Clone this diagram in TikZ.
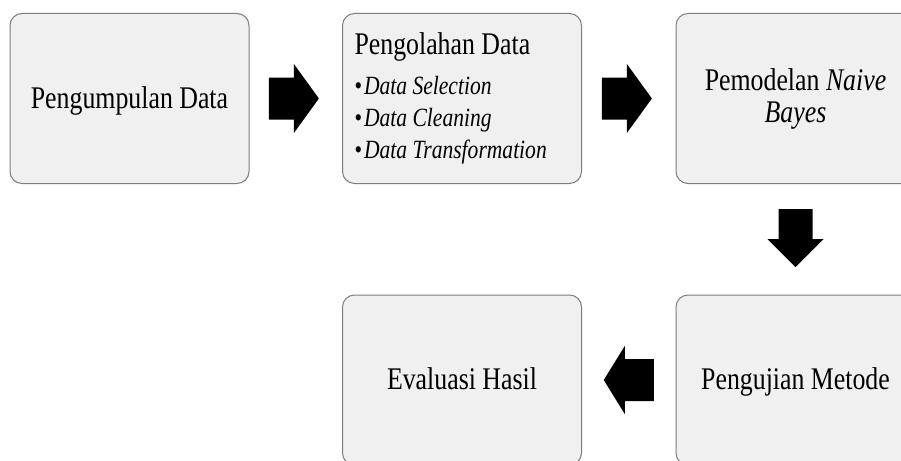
\documentclass[tikz,border=0pt]{standalone}
\usepackage{fontspec}
\setmainfont[FakeStretch=0.82]{Liberation Serif}
\usetikzlibrary{calc}

\definecolor{boxfill}{RGB}{240,240,240}
\definecolor{boxline}{RGB}{125,125,125}
\newcommand{\stagefont}{\fontsize{31.5}{32}\selectfont}
\newcommand{\listfont}{\fontsize{26.3}{32}\selectfont}

\tikzset{
  stage/.style={draw=boxline, fill=boxfill, line width=1pt, rounded corners=12pt,
    minimum width=239pt, minimum height=170pt, align=center, font=\stagefont},
  oneline/.style={text depth=2.5pt},
  listbox/.style={text width=215pt, inner xsep=12pt, align=flush left},
  blockarrow/.style={fill=black}
}

\begin{document}
\begin{tikzpicture}[x=1pt, y=-1pt]
    \useasboundingbox (0,0) rectangle (901,460);
    \clip (0,0) rectangle (901,460);
    % Top row of stages
    \node[stage, oneline] (collect) at (129.5,98.5) {Pengumpulan Data};
    \node[stage, listbox] (process) at (462,98.5) {%
        {\stagefont Pengolahan Data}\\[8pt]
        {\listfont\textbullet\hspace{2pt}\textit{Data Selection}}\\
        {\listfont\textbullet\hspace{2pt}\textit{Data Cleaning}}\\
        {\listfont\textbullet\hspace{2pt}\textit{Data Transformation}}};
    \node[stage] (model) at (795.5,98.5) {Pemodelan \textit{Naive}\\\textit{Bayes}};
    % Bottom row, read right to left
    \node[stage, oneline] (test) at (795.5,380) {Pengujian Metode};
    \node[stage, oneline] (eval) at (462,380) {Evaluasi Hasil};
    % Block arrows between the stages
    \coordinate (a1) at ($(collect.east)!0.48!(process.west)$);
    \coordinate (a2) at ($(process.east)!0.48!(model.west)$);
    \coordinate (a3) at ($(model.south)!0.49!(test.north)$);
    \coordinate (a4) at ($(test.west)!0.5!(eval.east)$);
    \fill[blockarrow, shift={(a1)}] (-25,-21) -- (0,-21) -- (0,-34.5) -- (25,0)
        -- (0,34.5) -- (0,21) -- (-25,21) -- cycle;
    \fill[blockarrow, shift={(a2)}] (-25,-21) -- (0,-21) -- (0,-34.5) -- (25,0)
        -- (0,34.5) -- (0,21) -- (-25,21) -- cycle;
    % downward arrow
    \fill[blockarrow, shift={(a3)}] (-17,-29) -- (17,-29) -- (17,1) -- (28,1)
        -- (0,29) -- (-28,1) -- (-17,1) -- cycle;
    % leftward arrow
    \fill[blockarrow, shift={(a4)}] (25,-21) -- (-4,-21) -- (-4,-34) -- (-25,0)
        -- (-4,34) -- (-4,21) -- (25,21) -- cycle;
\end{tikzpicture}
\end{document}
